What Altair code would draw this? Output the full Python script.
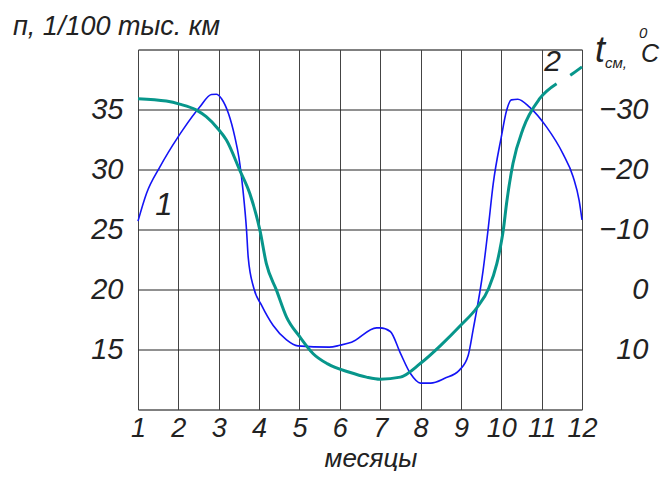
import altair as alt
import pandas as pd

# ---- data ----
months_1 = [1.00, 1.21, 1.54, 1.99, 2.11, 2.53, 2.82, 2.94, 3.07, 3.40, 3.50, 3.60, 3.69, 3.73,
            3.87, 4.06, 4.35, 4.68, 4.96, 5.74, 6.00, 6.29, 6.91, 7.00, 7.25, 7.50, 7.75, 8.00,
            8.25, 8.60, 8.97, 9.18, 9.30, 9.55, 9.67, 9.80, 10.00, 10.13, 10.25, 10.41, 10.70,
            11.12, 11.53, 11.78, 11.93, 12.00]
n_1 = [25.7, 28.0, 30.2, 32.7, 33.3, 35.2, 36.25, 36.27, 35.9, 32.7, 31.0, 28.3, 24.9, 22.7,
       20.1, 18.7, 17.0, 15.8, 15.3, 15.2, 15.35, 15.6, 16.8, 16.8, 16.5, 14.7, 13.0, 12.2,
       12.2, 12.6, 13.3, 14.5, 16.6, 21.6, 24.9, 28.8, 32.7, 34.9, 35.8, 35.85, 35.2,
       33.55, 31.3, 29.4, 27.4, 25.8]

months_2 = [1.00, 1.70, 2.03, 2.45, 2.69, 2.98, 3.19, 3.52, 3.77, 4.02, 4.18, 4.43, 4.68, 5.01,
            5.34, 5.70, 6.24, 6.66, 7.00, 7.50, 8.00, 8.50, 8.99, 9.40, 9.69, 9.89, 9.97, 10.05,
            10.13, 10.29, 10.54, 10.95, 11.37]
t_2 = [-31.8, -31.4, -30.9, -29.9, -28.8, -26.8, -24.9, -19.9, -16.0, -9.9, -4.3, 0.1, 4.6, 7.9,
       10.7, 12.4, 13.8, 14.6, 14.95, 14.6, 12.3, 9.3, 6.0, 3.0, -0.2, -4.3, -6.8, -9.9,
       -14.3, -21.0, -26.8, -31.8, -34.3]

months_2_dash = [11.37, 11.71, 12.0]
t_2_dash = [-34.3, -35.7, -37.1]

x_ticks = list(range(1, 13))
n_ticks = [15, 20, 25, 30, 35]
t_ticks = [-30, -20, -10, 0, 10]

curve_labels = ["1", "2"]
left_title = "п, 1/100 тыс. км"
x_title = "месяцы"
right_title_parts = ["t", "см,", "0", "C"]

FONT = "Liberation Sans, Arial, sans-serif"
BLUE = "#1414f5"
TEAL = "#07968b"
INK = "#222222"

df1 = pd.DataFrame({"month": months_1, "n": n_1})
df2 = pd.DataFrame({"month": months_2, "t": t_2})
df3 = pd.DataFrame({"month": months_2_dash, "t": t_2_dash})

xscale = alt.Scale(domain=[1, 12], nice=False, zero=False)
nscale = alt.Scale(domain=[10, 40], nice=False, zero=False)
tscale = alt.Scale(domain=[-40, 20], reverse=True, nice=False, zero=False)

x_axis = alt.Axis(values=x_ticks, grid=True, gridColor="#444444", gridWidth=1, gridOpacity=1,
                  ticks=False, domain=False, labelFont=FONT, labelFontSize=27,
                  labelFontStyle="italic", labelPadding=6, labelColor=INK, title=None,
                  labelFlush=False, labelAngle=0, labelOverlap=False)
n_axis = alt.Axis(values=n_ticks, grid=True, gridColor="#222222", gridWidth=1, gridOpacity=1,
                  ticks=False, domain=False, labelFont=FONT, labelFontSize=29,
                  labelFontStyle="italic", labelPadding=15, labelColor=INK, title=None)
t_axis = alt.Axis(orient="right", values=t_ticks, grid=False, ticks=False, domain=False,
                  labelFont=FONT, labelFontSize=29, labelFontStyle="italic", labelAlign="right",
                  labelPadding=66, labelColor=INK, title=None)

X = alt.X("month:Q", scale=xscale, axis=x_axis)

blue = alt.Chart(df1).mark_line(color=BLUE, strokeWidth=1.6, interpolate="monotone").encode(
    x=X, y=alt.Y("n:Q", scale=nscale, axis=n_axis))

lab1 = alt.Chart(pd.DataFrame({"month": [1.64], "n": [27.0], "label": [curve_labels[0]]})).mark_text(
    font=FONT, fontSize=31, fontStyle="italic", color=INK).encode(
    x=X, y=alt.Y("n:Q", scale=nscale, axis=n_axis), text="label:N")

def free_text(txt, x, y, size, align="left"):
    return alt.Chart(pd.DataFrame({"label": [txt]})).mark_text(
        font=FONT, fontSize=size, fontStyle="italic", color=INK, align=align,
        baseline="alphabetic").encode(x=alt.value(x), y=alt.value(y), text="label:N")

titles = [
    free_text(left_title, -125, -14.5, 27),
    free_text(x_title, 233, 417, 26, align="center"),
    free_text(right_title_parts[0], 457, 12.5, 36),
    free_text(right_title_parts[1], 467, 18.5, 15),
    free_text(right_title_parts[2], 501, -12, 15),
    free_text(right_title_parts[3], 503, 12.5, 25),
]

group_n = alt.layer(blue, lab1, *titles)

T = alt.Y("t:Q", scale=tscale, axis=t_axis)
teal = alt.Chart(df2).mark_line(color=TEAL, strokeWidth=3, interpolate="monotone").encode(x=X, y=T)
teal_dash = alt.Chart(df3).mark_line(color=TEAL, strokeWidth=3, interpolate="monotone",
                                     strokeDash=[16, 16], strokeDashOffset=16).encode(x=X, y=T)
lab2 = alt.Chart(pd.DataFrame({"month": [11.27], "t": [-37.9], "label": [curve_labels[1]]})).mark_text(
    font=FONT, fontSize=30, fontStyle="italic", color=INK).encode(x=X, y=T, text="label:N")

group_t = alt.layer(teal, teal_dash, lab2)

chart = alt.layer(group_n, group_t).resolve_scale(y="independent").properties(
    width=444, height=360,
    padding={"left": 130, "top": 41.5, "right": 78, "bottom": 61.5},
    autosize="none",
    background="white",
).configure_view(stroke="black", strokeWidth=1)

chart.save("out.html", embed_options={"renderer": "svg", "actions": False})
